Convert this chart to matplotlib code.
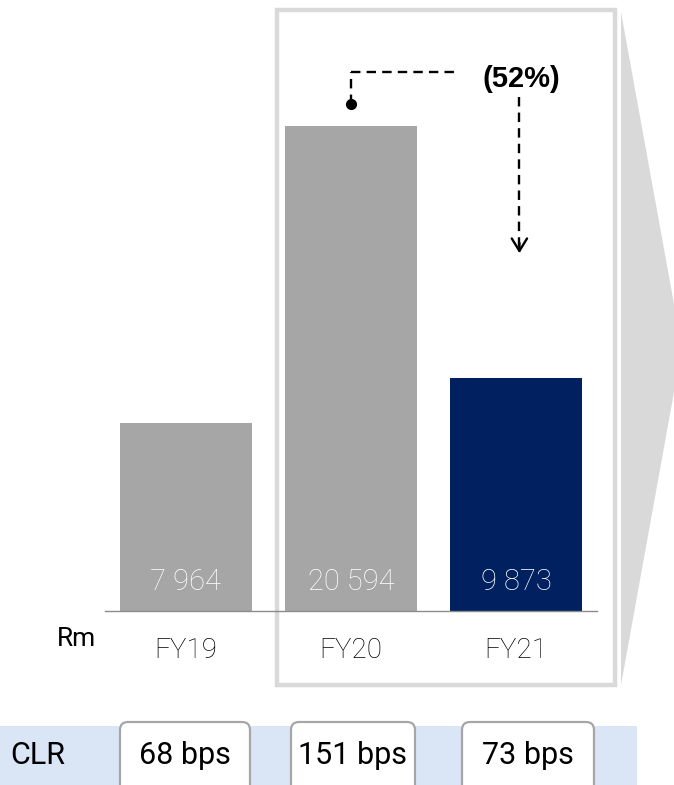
import matplotlib
matplotlib.use("Agg")
import matplotlib.pyplot as plt
from matplotlib.patches import Rectangle, Polygon, FancyBboxPatch

categories = ["FY19", "FY20", "FY21"]
values = [7964, 20594, 9873]
value_labels = ["7 964", "20 594", "9 873"]
clr_labels = ["68 bps", "151 bps", "73 bps"]
change_label = "(52%)"
unit_label = "Rm"
clr_title = "CLR"

FONT = ["Roboto", "DejaVu Sans"]

W, H = 674, 785
fig = plt.figure(figsize=(W / 100, H / 100), dpi=100)

# background decorations in pixel space
ax0 = fig.add_axes([0, 0, 1, 1])
ax0.set_xlim(0, W)
ax0.set_ylim(H, 0)
ax0.axis("off")
ax0.add_patch(Polygon([(621, 12), (682, 348), (621, 685)], closed=True,
                      facecolor="#d9d9d9", edgecolor="none"))
ax0.add_patch(Rectangle((277, 10), 338, 675, facecolor="none",
                        edgecolor="#d9d9d9", lw=3.2))
ax0.add_patch(Rectangle((0, 726), 637, 60, facecolor="#dae5f5", edgecolor="none"))
box_x = [(120, 250), (291, 415), (462, 594)]
for (x0, x1), lab in zip(box_x, clr_labels):
    ax0.add_patch(FancyBboxPatch((x0 + 8, 730), x1 - x0 - 16, 70,
                                 boxstyle="round,pad=8", facecolor="white",
                                 edgecolor="#a6a6a6", lw=1.6))
    ax0.text((x0 + x1) / 2, 755, lab, ha="center", va="center", fontsize=22,
             family=FONT, color="black")
ax0.text(10, 755, clr_title, ha="left", va="center", fontsize=22,
         family=FONT, color="black")
ax0.text(76, 639, unit_label, ha="center", va="center", fontsize=19,
         family=FONT, color="black")

# bar axes
px_per_unit = 0.02355
top_px, base_px = 10, 611
left_px, right_px = 105, 597
ax = fig.add_axes([left_px / W, (H - base_px) / H, (right_px - left_px) / W,
                   (base_px - top_px) / H])
ax.patch.set_alpha(0)
ax.set_xlim(-0.49, 2.49)
ax.set_ylim(0, (base_px - top_px) / px_per_unit)
colors = ["#a6a6a6", "#a6a6a6", "#002060"]
x = list(range(len(categories)))
ax.bar(x, values, width=0.8, color=colors)
for s in ["top", "right", "left"]:
    ax.spines[s].set_visible(False)
ax.spines["bottom"].set_color("#8c8c8c")
ax.spines["bottom"].set_linewidth(1)
ax.set_yticks([])
ax.set_xticks(x)
ax.set_xticklabels(categories, fontsize=20, fontweight="light", family=FONT,
                   color="black")
ax.tick_params(axis="x", length=0, pad=19)
for xi, lab, v in zip(x, value_labels, values):
    ax.text(xi, 1250, lab, ha="center", va="center", color="white",
            fontsize=21, fontweight="light", family=FONT)

# change annotation
def py(p):
    return (base_px - p) / px_per_unit

DASH = (0, (4, 2.6))
ax.plot([1, 1], [py(104), py(72)], color="black", lw=1.7, ls=DASH, clip_on=False)
ax.plot([1, 1 + (455 - 351) / 165], [py(72), py(72)], color="black", lw=1.7,
        ls=DASH, clip_on=False)
ax.plot([1], [py(104)], marker="o", color="black", ms=7, clip_on=False)
ax.plot([2.02, 2.02], [py(97), py(248)], color="black", lw=1.7, ls=DASH,
        clip_on=False)
ax.annotate("", xy=(2.02, py(256)), xytext=(2.02, py(240)),
            arrowprops=dict(arrowstyle="->,head_length=0.9,head_width=0.55",
                            color="black", lw=1.7),
            annotation_clip=False)
ax.text(2.03, py(79), change_label, ha="center", va="center", fontsize=21,
        fontweight="bold", family=["Liberation Sans", "DejaVu Sans"])

fig.savefig("out.png", dpi=100)
